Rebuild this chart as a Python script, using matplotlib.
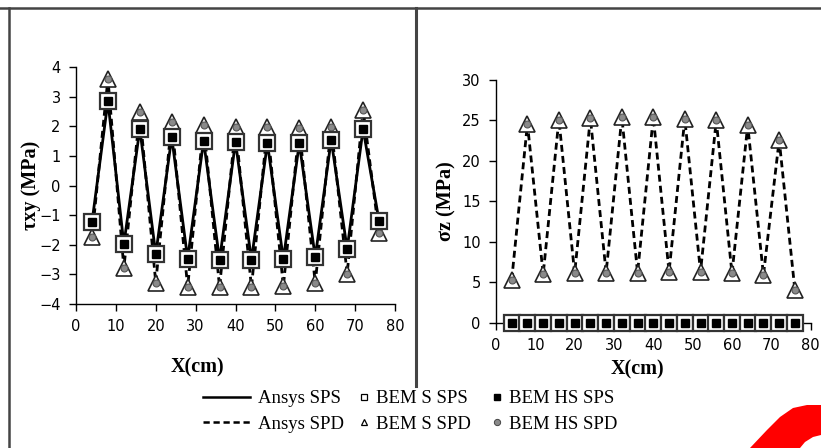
import matplotlib as mpl
import matplotlib.pyplot as pp
from matplotlib.lines import Line2D
from matplotlib.patches import Polygon
import numpy as np

# x positions along the section (cm)
x_cm = [4, 8, 12, 16, 20, 24, 28, 32, 36, 40, 44, 48, 52, 56, 60, 64, 68, 72, 76]

# shear stress txy (MPa)
txy_sps = [-1.24, 2.84, -1.98, 1.91, -2.32, 1.63, -2.47, 1.51, -2.51, 1.47,
           -2.51, 1.43, -2.49, 1.43, -2.42, 1.54, -2.14, 1.91, -1.19]
txy_spd = [-1.75, 3.61, -2.79, 2.47, -3.28, 2.16, -3.43, 2.05, -3.43, 1.99,
           -3.43, 1.97, -3.40, 1.94, -3.30, 1.99, -2.98, 2.56, -1.61]

# normal stress sz (MPa)
sz_sps = [0, 0, 0, 0, 0, 0, 0, 0, 0, 0, 0, 0, 0, 0, 0, 0, 0, 0, 0]
sz_spd = [5.3, 24.6, 6.0, 25.1, 6.1, 25.3, 6.2, 25.4, 6.2, 25.4,
          6.3, 25.2, 6.3, 25.0, 6.1, 24.4, 5.9, 22.6, 4.0]

legend_labels = ["Ansys SPS", "Ansys SPD", "BEM S SPS", "BEM S SPD", "BEM HS SPS", "BEM HS SPD"]

SERIF = ["Liberation Serif", "DejaVu Serif"]


def configure_pp():
    pp.rcParams["font.family"] = "DejaVu Sans"
    pp.rcParams["font.size"] = 10.5
    pp.rcParams["axes.linewidth"] = 1.0
    pp.rcParams["xtick.direction"] = "out"
    pp.rcParams["ytick.direction"] = "out"


def draw_series(ax, sps, spd):
    ax.plot(x_cm, sps, color="black", lw=2.0, ls="-", zorder=2)
    ax.plot(x_cm, spd, color="black", lw=2.0, ls=(0, (2.5, 1.5)), zorder=2)
    ax.plot(x_cm, spd, ls="none", marker="^", ms=12, mfc="white", mec="#222", mew=1.2, zorder=3)
    ax.plot(x_cm, spd, ls="none", marker="o", ms=5, mfc="#8a8a8a", mec="#555", mew=0.8, zorder=4)
    ax.plot(x_cm, sps, ls="none", marker="s", ms=11, mfc="white", mec="#333", mew=1.6, zorder=5)
    ax.plot(x_cm, sps, ls="none", marker="s", ms=6, mfc="black", mec="black", zorder=6)
    for art in ax.lines:
        art.set_clip_on(False)


def style_axes(ax, ylabel, yzero, labelpad):
    for s in ["top", "right"]:
        ax.spines[s].set_visible(False)
    ax.spines["bottom"].set_position(("data", yzero))
    ax.set_xlim(0, 80)
    ax.set_xticks(np.arange(0, 81, 10))
    ax.tick_params(length=5, width=1, pad=6)
    ax.set_ylabel(ylabel, family=SERIF, fontweight="bold", fontsize=14.5, labelpad=labelpad)


def plot(name):
    fig = pp.figure(figsize=(8.21, 4.48), dpi=100)
    W, H = 821.0, 448.0

    ax1 = fig.add_axes([0.0926, 0.3214, 0.3885, 0.529])
    draw_series(ax1, txy_sps, txy_spd)
    style_axes(ax1, "τxy (MPa)", -4, -1.5)
    ax1.set_ylim(-4, 4)
    ax1.set_yticks(np.arange(-4, 5, 1))

    ax2 = fig.add_axes([0.6041, 0.2797, 0.3833, 0.5417])
    draw_series(ax2, sz_sps, sz_spd)
    style_axes(ax2, "σz (MPa)", 0, 4)
    ax2.set_ylim(0, 30)
    ax2.set_yticks(np.arange(0, 31, 5))

    fig.text(197 / W, 1 - 367 / H, "X(cm)", family=SERIF, fontweight="bold",
             fontsize=14.5, ha="center", va="center")
    fig.text(637 / W, 1 - 369 / H, "X(cm)", family=SERIF, fontweight="bold",
             fontsize=14.5, ha="center", va="center")

    # legend: line styles
    line_handles = [Line2D([], [], color="black", lw=1.8, ls="-"),
                    Line2D([], [], color="black", lw=1.8, ls=(0, (2.5, 1.5)))]
    fig.legend(line_handles, legend_labels[:2], loc="upper left",
               bbox_to_anchor=(203 / W, 1 - 390 / H), frameon=False,
               prop={"family": SERIF, "size": 13.5}, handlelength=2.5,
               handletextpad=0.45, labelspacing=0.45, borderpad=0, borderaxespad=0)

    # legend: BEM markers
    mk_handles = [Line2D([], [], ls="none", marker="s", ms=5, mfc="white", mec="black", mew=0.9),
                  Line2D([], [], ls="none", marker="^", ms=5, mfc="white", mec="black", mew=0.9),
                  Line2D([], [], ls="none", marker="s", ms=5, mfc="black", mec="black"),
                  Line2D([], [], ls="none", marker="o", ms=4.5, mfc="#8a8a8a", mec="#444", mew=0.7)]
    fig.legend(mk_handles, legend_labels[2:], loc="upper left", ncol=2,
               bbox_to_anchor=(356 / W, 1 - 390 / H), frameon=False,
               prop={"family": SERIF, "size": 13.5}, handlelength=0.8,
               handletextpad=0.25, labelspacing=0.45, columnspacing=1.0,
               borderpad=0, borderaxespad=0)

    # panel frames
    fig.add_artist(Line2D([0, 1], [1 - 8 / H, 1 - 8 / H], color="#444", lw=1.8))
    fig.add_artist(Line2D([9 / W, 9 / W], [0, 1 - 8 / H], color="#444", lw=1.8))
    fig.add_artist(Line2D([416 / W, 416 / W], [1 - 386 / H, 1 - 8 / H], color="#444", lw=2.2))

    # red swoosh in the corner
    swoosh = [(750, 448), (767, 430), (780, 417), (793, 408), (807, 405), (821, 405),
              (821, 435), (813, 437), (805, 442), (800, 448)]
    fig.add_artist(Polygon([(px / W, 1 - py / H) for px, py in swoosh], closed=True,
                           transform=fig.transFigure, color="red", lw=0))

    pp.savefig(f"{name}.png", dpi=100)


if __name__ == "__main__":
    configure_pp()
    plot("out")
